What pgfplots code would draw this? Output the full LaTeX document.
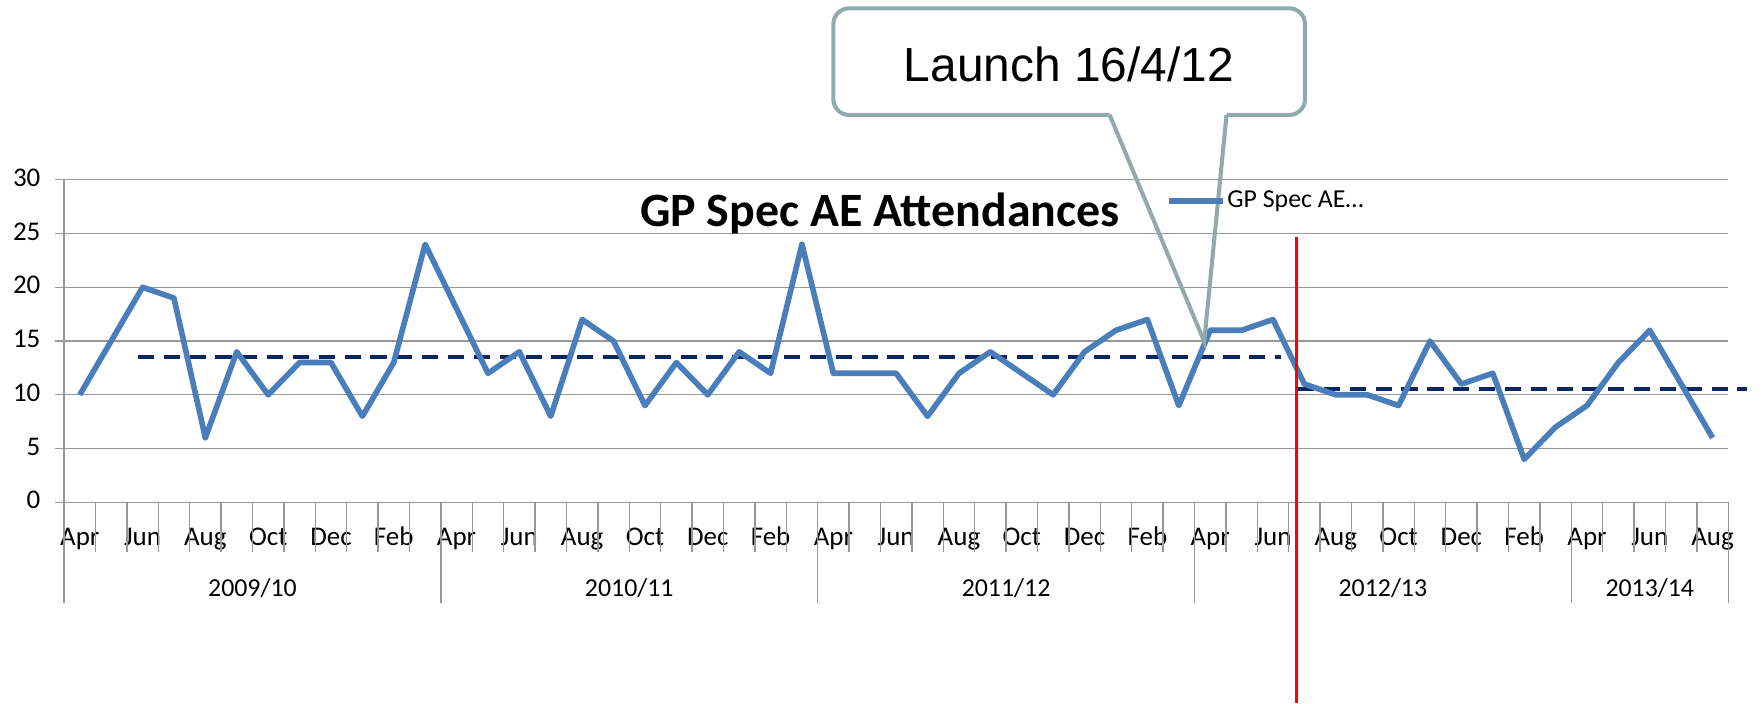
\documentclass[border=0pt]{standalone}
\usepackage{fontspec}
\setmainfont{Carlito}
\newfontfamily\arialfont{Liberation Sans}
\usepackage{pgfplots}
\usepackage{pgfplotstable}
\pgfplotsset{compat=1.18}

\definecolor{serblue}{HTML}{4A7EBB}
\definecolor{navy}{HTML}{0B2560}
\definecolor{callout}{HTML}{8FAAAA}
\definecolor{gridgray}{HTML}{979797}

\pgfplotstableread{
x y
0 10
1 15
2 20
3 19
4 6
5 14
6 10
7 13
8 13
9 8
10 13
11 24
12 18
13 12
14 14
15 8
16 17
17 15
18 9
19 13
20 10
21 14
22 12
23 24
24 12
25 12
26 12
27 8
28 12
29 14
30 12
31 10
32 14
33 16
34 17
35 9
36 16
37 16
38 17
39 11
40 10
41 10
42 9
43 15
44 11
45 12
46 4
47 7
48 9
49 13
50 16
51 11
52 6
}\gpdata

\begin{document}
\begin{tikzpicture}
\begin{axis}[
  scale only axis, width=740.5pt, height=143.5pt,
  xmin=-0.5, xmax=52.5, ymin=0, ymax=30,
  clip=false,
  axis x line*=bottom, axis y line*=left,
  axis line style={gridgray, line width=0.6pt},
  ytick={0,5,...,30}, ymajorgrids,
  grid style={gridgray, line width=0.6pt},
  tick align=outside, major tick length=4pt,
  ytick style={gridgray, line width=0.6pt},
  xtick={0,2,...,52},
  xticklabels={Apr,Jun,Aug,Oct,Dec,Feb,Apr,Jun,Aug,Oct,Dec,Feb,Apr,Jun,Aug,Oct,Dec,Feb,Apr,Jun,Aug,Oct,Dec,Feb,Apr,Jun,Aug},
  xtick style={draw=none},
  typeset ticklabels with strut,
  xticklabel style={font=\fontsize{12}{14.4}\selectfont, yshift=-1.5pt},
  yticklabel style={font=\fontsize{12}{14.4}\selectfont, anchor=east, xshift=-3pt},
  /pgf/number format/assume math mode=true,
  legend style={at={(axis cs:34.6,28.05)}, anchor=west, draw=none, fill=none,
    inner sep=0pt, font=\fontsize{11.5}{13.8}\selectfont,
    nodes={inner sep=0.5pt}},
  legend image code/.code={\draw[#1, line width=2.5pt] (0pt,0pt) -- (24pt,0pt);},
]
% month separators and year separators
\pgfplotsinvokeforeach{-0.5,0.5,...,52.5}{
  \draw[gridgray, line width=0.6pt] (axis cs:#1,0) -- ++(0pt,-22pt);
}
\pgfplotsinvokeforeach{-0.5,11.5,23.5,35.5,47.5,52.5}{
  \draw[gridgray, line width=0.6pt] (axis cs:#1,0) -- ++(0pt,-45pt);
}
\node[anchor=base, font=\fontsize{11.5}{13.8}\selectfont, yshift=-42pt] at (axis cs:5.5,0) {2009/10};
\node[anchor=base, font=\fontsize{11.5}{13.8}\selectfont, yshift=-42pt] at (axis cs:17.5,0) {2010/11};
\node[anchor=base, font=\fontsize{11.5}{13.8}\selectfont, yshift=-42pt] at (axis cs:29.5,0) {2011/12};
\node[anchor=base, font=\fontsize{11.5}{13.8}\selectfont, yshift=-42pt] at (axis cs:41.5,0) {2012/13};
\node[anchor=base, font=\fontsize{11.5}{13.8}\selectfont, yshift=-42pt] at (axis cs:50,0) {2013/14};

% mean lines
\addplot[navy, line width=1.8pt, dash pattern=on 7.2pt off 4.3pt, forget plot] coordinates {(1.85,13.5) (38.25,13.5)};
\addplot[navy, line width=1.8pt, dash pattern=on 7.2pt off 4.3pt, forget plot] coordinates {(38.8,10.5) (53.1,10.5)};

% data
\addplot[serblue, line width=2.5pt, line join=round] table[x=x, y=y] {\gpdata};
\addlegendentry{GP Spec AE…}

% launch marker
\addplot[red, line width=1.3pt, forget plot] coordinates {(38.74,24.7) (38.74,-18.7)};

% title
\node[anchor=base, font=\bfseries\fontsize{21.3}{25}\selectfont] at (axis cs:25.48,25.63) {GP Spec AE Attendances};

% callout
\draw[callout, line width=1.8pt, rounded corners=7pt]
  (axis cs:32.8,36.03) -- (axis cs:24.0,36.03) -- (axis cs:24.0,45.95)
  -- (axis cs:39.02,45.95) -- (axis cs:39.02,36.03) -- (axis cs:36.52,36.03);
\draw[callout, line width=1.8pt, line join=miter]
  (axis cs:36.52,36.03) -- (axis cs:35.81,14.95) -- (axis cs:32.8,36.03);
\node[anchor=base, font=\arialfont\fontsize{21.3}{25}\selectfont] at (axis cs:31.5,39.1) {Launch 16/4/12};
\end{axis}
\pgfresetboundingbox
\path (-28.5pt,-89.5pt) rectangle (755.5pt,223.5pt);
\end{tikzpicture}
\end{document}
